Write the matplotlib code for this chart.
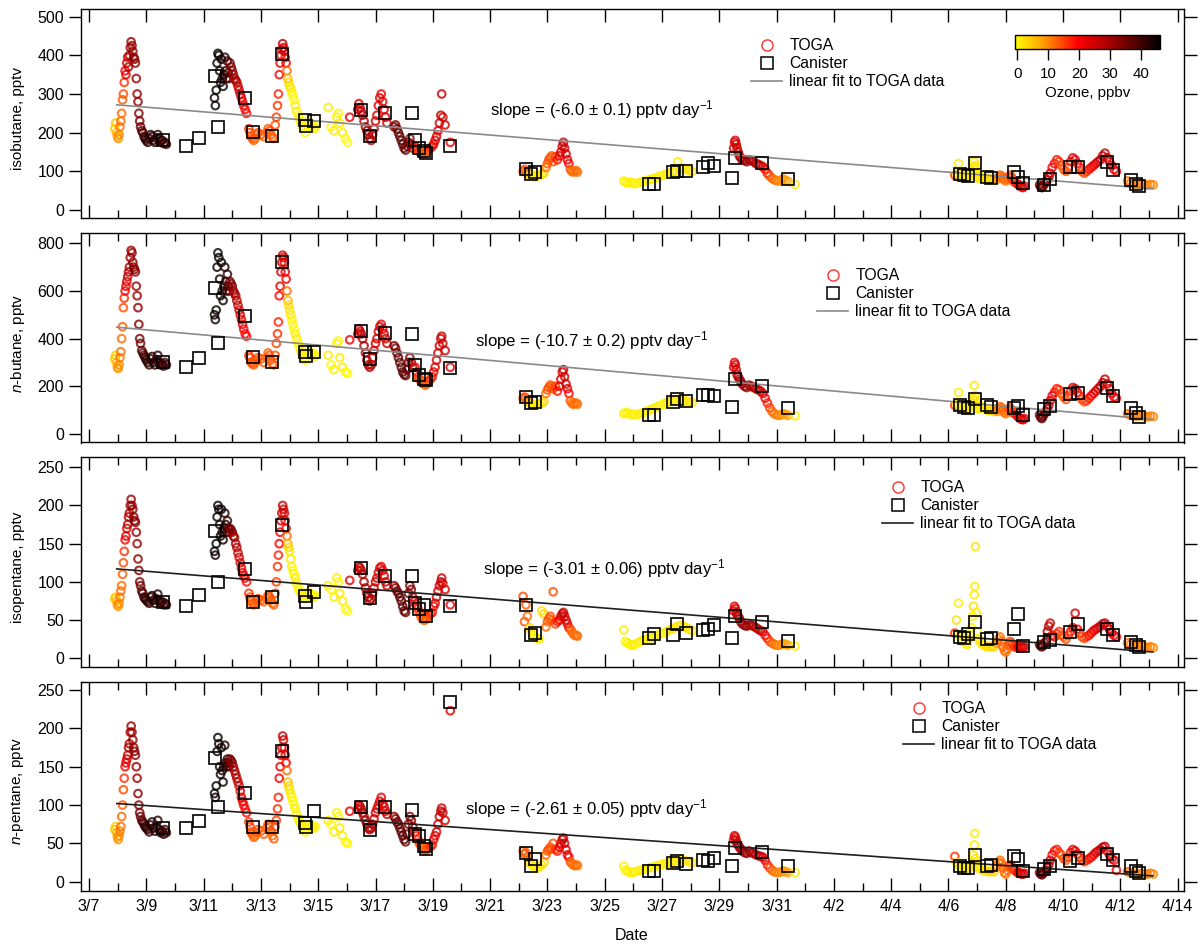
import numpy as np
import matplotlib.pyplot as plt
from matplotlib.colors import LinearSegmentedColormap, Normalize
from matplotlib.cm import ScalarMappable
from matplotlib.lines import Line2D
from matplotlib.ticker import FixedLocator

plt.rcParams['font.family'] = ['Liberation Sans', 'DejaVu Sans']
plt.rcParams['mathtext.fontset'] = 'custom'
plt.rcParams['mathtext.rm'] = 'Liberation Sans'
plt.rcParams['mathtext.it'] = 'Liberation Sans:italic'

# time is in days of March (4/1 = 32)
# TOGA samples: time, ozone (ppbv) and the four alkanes (pptv)
toga_day = [
    7.90, 7.93, 7.96, 7.99, 8.02, 8.05, 8.08, 8.11, 8.14, 8.17,
    8.20, 8.23, 8.26, 8.29, 8.32, 8.35, 8.38, 8.41, 8.44, 8.47,
    8.50, 8.53, 8.56, 8.59, 8.62, 8.65, 8.68, 8.71, 8.74, 8.77,
    8.80, 8.84, 8.88, 8.92, 8.96, 9.00, 9.05, 9.10, 9.15, 9.20,
    9.25, 9.30, 9.35, 9.40, 9.45, 9.50, 9.55, 9.60, 9.65, 9.70,
    11.38, 11.41, 11.44, 11.47, 11.50, 11.53, 11.56, 11.59, 11.62, 11.65,
    11.68, 11.71, 11.74, 11.77, 11.80, 11.83, 11.86, 11.89, 11.92, 11.96,
    12.00, 12.04, 12.08, 12.12, 12.16, 12.20, 12.24, 12.28, 12.32, 12.36,
    12.40, 12.45, 12.50, 12.58, 12.62, 12.66, 12.70, 12.75, 12.80, 12.85,
    12.90, 13.00, 13.10, 13.20, 13.25, 13.30, 13.35, 13.40, 13.45,
    13.50, 13.54, 13.58, 13.61, 13.64, 13.67, 13.70, 13.73, 13.76, 13.79,
    13.82, 13.85, 13.88, 13.91, 13.94, 13.97, 14.00, 14.04, 14.08, 14.12,
    14.16, 14.20, 14.25, 14.30, 14.35, 14.40, 14.45, 14.50, 14.55, 14.60,
    14.65, 14.70, 14.75, 14.80, 14.85, 14.90,
    15.35, 15.45, 15.55, 15.65, 15.70, 15.75, 15.85, 15.95, 16.02, 16.10,
    16.38, 16.42, 16.46, 16.50, 16.55, 16.60, 16.65, 16.70, 16.75, 16.80,
    16.85, 16.90, 16.95, 17.00, 17.05, 17.10, 17.15, 17.20, 17.25, 17.30,
    17.35, 17.40,
    17.65, 17.70, 17.75, 17.80, 17.85, 17.90, 17.95, 18.00, 18.05, 18.10,
    18.15, 18.20, 18.25, 18.30, 18.38, 18.43, 18.48, 18.53, 18.58, 18.63,
    18.68, 18.73, 18.78, 18.85, 18.92, 18.98, 19.03, 19.08, 19.13, 19.18,
    19.23, 19.28, 19.31, 19.35, 19.43, 19.61,
    22.15, 22.20, 22.25, 22.30, 22.38, 22.45, 22.52, 22.58, 22.65, 22.72,
    22.80, 22.88, 22.95, 23.00, 23.05, 23.10, 23.15, 23.20, 23.28, 23.35,
    23.42, 23.47, 23.52, 23.56, 23.60, 23.65, 23.70, 23.75, 23.80, 23.85,
    23.90, 23.95, 24.00, 24.05,
    25.67, 25.72, 25.80, 25.88, 25.96, 26.05, 26.15, 26.25, 26.35, 26.45,
    26.55, 26.65, 26.75, 26.85, 26.95, 27.05, 27.15, 27.25, 27.35, 27.45,
    27.55, 27.65, 27.75, 27.85, 27.95, 28.05,
    29.50, 29.53, 29.56, 29.59, 29.62, 29.66, 29.70, 29.75, 29.80, 29.88,
    29.96, 30.04, 30.12, 30.20, 30.28, 30.36, 30.44, 30.52, 30.60, 30.68,
    30.76, 30.84, 30.92, 31.00, 31.08, 31.16, 31.24, 31.32, 31.40, 31.65,
    37.22, 37.28, 37.35, 37.40, 37.45, 37.50, 37.55, 37.60, 37.65, 37.70,
    37.75, 37.80, 37.84, 37.87, 37.90, 37.92, 37.94, 37.97, 38.00, 38.05,
    38.10, 38.15, 38.20, 38.25, 38.30, 38.35, 38.42, 38.50, 38.58,
    38.70, 38.75, 38.80, 38.85, 38.90, 38.95, 39.00, 39.05, 39.10, 39.15,
    39.20, 39.25, 39.30, 39.40, 39.45, 39.50, 39.55, 39.60, 39.65,
    40.18, 40.22, 40.26, 40.30, 40.35, 40.40, 40.45, 40.50, 40.55, 40.62,
    40.70, 40.78, 40.86, 40.94, 41.02, 41.10, 41.18, 41.26, 41.34, 41.42,
    41.50, 41.58, 41.66, 41.74, 41.82, 41.90, 41.98, 42.06, 42.14, 42.22,
    42.30, 42.38, 42.46, 42.54, 42.62, 42.70, 42.78, 42.86,
    43.25, 43.35, 43.45, 43.55, 43.65, 43.75, 43.85, 43.95, 44.05, 44.15,
]
toga_ozone = [
    5, 4, 6, 8, 9, 10, 11, 12, 12, 13,
    14, 16, 20, 22, 24, 26, 28, 29, 30, 31,
    31, 32, 32, 33, 32, 31, 31, 32, 33, 34,
    35, 36, 38, 40, 41, 42, 42, 41, 42, 43,
    43, 42, 41, 42, 43, 43, 42, 41, 40, 40,
    44, 45, 46, 45, 46, 45, 44, 45, 46, 44,
    45, 44, 43, 44, 42, 41, 40, 38, 35, 33,
    32, 31, 30, 29, 28, 26, 25, 24, 23, 22,
    21, 20, 19, 16, 15, 14, 13, 13, 12, 13,
    14, 14, 13, 12, 13, 14, 13, 12, 13,
    14, 15, 16, 17, 20, 22, 24, 25, 26, 25,
    24, 22, 20, 12, 6, 3, 2, 1, 1, 0,
    0, 1, 1, 0, 0, 1, 1, 0, 0, 1,
    1, 0, 0, 1, 1, 0,
    1, 0, 1, 1, 0, 1, 1, 0, 0, 22,
    24, 25, 26, 27, 28, 29, 30, 31, 30, 29,
    28, 27, 26, 25, 24, 23, 23, 22, 23, 24,
    25, 26,
    33, 34, 35, 36, 37, 38, 38, 37, 36, 35,
    34, 33, 32, 30, 20, 18, 16, 14, 13, 13,
    12, 12, 13, 14, 16, 18, 22, 23, 24, 25,
    25, 26, 26, 25, 24, 22,
    14, 14, 13, 12, 3, 1, 1, 0, 1, 1,
    2, 3, 12, 13, 14, 14, 13, 14, 15, 18,
    22, 24, 25, 26, 25, 24, 23, 20, 14, 12,
    12, 11, 12, 12,
    1, 0, 1, 0, 1, 1, 0, 1, 1, 0,
    1, 1, 0, 1, 1, 0, 1, 1, 2, 2,
    1, 2, 2, 1, 2, 2,
    22, 23, 24, 25, 26, 27, 28, 29, 30, 31,
    32, 31, 30, 29, 28, 27, 26, 25, 22, 18,
    15, 13, 12, 11, 10, 10, 9, 8, 8, 1,
    16, 2, 1, 1, 0, 1, 1, 0, 1, 1,
    2, 1, 1, 2, 1, 1, 2, 1, 1, 2,
    1, 1, 2, 1, 1, 2, 2, 3, 3,
    10, 11, 12, 12, 13, 12, 11, 12, 13, 14,
    14, 15, 16, 18, 22, 24, 25, 24, 23,
    35, 36, 37, 36, 35, 34, 30, 28, 25, 22,
    20, 18, 16, 14, 13, 14, 15, 18, 22, 24,
    22, 18, 15, 14, 16, 18, 20, 22, 24, 25,
    26, 27, 26, 25, 24, 23, 22, 20,
    12, 11, 11, 10, 10, 11, 10, 10, 11, 10,
]
toga_isobutane = [
    210, 225, 200, 190, 185, 195, 215, 230, 250, 285,
    300, 330, 360, 350, 380, 395, 370, 400, 420, 435,
    425, 410, 395, 390, 380, 340, 300, 280, 250, 230,
    215, 205, 200, 190, 185, 180, 175, 185, 195, 190,
    180, 175, 185, 195, 185, 178, 180, 172, 175, 170,
    290, 270, 310, 380, 405, 400, 360, 330, 390, 340,
    320, 350, 395, 360, 340, 385, 355, 340, 380, 370,
    360, 350, 340, 335, 330, 320, 310, 300, 290, 280,
    270, 260, 250, 210, 200, 190, 185, 180, 185, 195,
    200, 195, 190, 200, 210, 205, 195, 188, 185,
    220, 240, 270, 300, 350, 380, 400, 415, 430, 420,
    410, 395, 380, 360, 340, 330, 320, 315, 305, 295,
    285, 270, 255, 245, 235, 225, 215, 210, 200, 220,
    230, 225, 215, 220, 210, 215,
    265, 215, 205, 240, 250, 225, 200, 185, 175, 240,
    260, 275, 265, 255, 245, 230, 215, 205, 195, 185,
    180, 195, 210, 230, 245, 270, 290, 300, 280, 260,
    240, 225,
    215, 220, 210, 200, 190, 180, 170, 160, 155, 165,
    175, 185, 170, 160, 165, 160, 155, 150, 148, 145,
    146, 148, 150, 155, 160, 165, 170, 180, 190, 205,
    225, 245, 300, 240, 220, 175,
    100, 105, 100, 95, 90, 88, 90, 85, 88, 90,
    92, 95, 110, 120, 130, 135, 140, 125, 138, 130,
    140, 150, 165, 175, 160, 145, 130, 120, 105, 100,
    98, 100, 102, 98,
    75, 72, 70, 72, 70, 68, 70, 72, 74, 76,
    78, 80, 82, 85, 88, 90, 92, 95, 98, 100,
    125, 105, 108, 105, 102, 100,
    160, 175, 180, 170, 160, 150, 140, 135, 130, 128,
    125, 130, 128, 125, 120, 118, 115, 112, 105, 95,
    88, 82, 78, 76, 75, 78, 80, 76, 74, 66,
    90, 95, 120, 90, 85, 88, 92, 85, 82, 88,
    90, 95, 100, 110, 125, 105, 115, 95, 85, 82,
    85, 88, 86, 84, 82, 80, 78, 80, 78,
    80, 85, 90, 88, 82, 78, 75, 80, 85, 90,
    85, 78, 72, 68, 65, 62, 60, 58, 62,
    65, 60, 58, 62, 68, 72, 78, 85, 95, 110,
    120, 130, 125, 115, 105, 100, 110, 125, 135, 130,
    120, 110, 100, 95, 100, 105, 110, 115, 120, 125,
    130, 140, 147, 135, 125, 115, 105, 100,
    75, 70, 68, 65, 66, 68, 65, 64, 66, 65,
]
toga_nbutane = [
    315, 330, 300, 280, 275, 290, 320, 345, 400, 450,
    530, 570, 600, 620, 640, 660, 680, 700, 740, 770,
    760, 720, 700, 690, 680, 620, 580, 530, 460, 400,
    380, 350, 340, 330, 320, 310, 300, 290, 315, 325,
    300, 290, 310, 330, 300, 290, 295, 285, 300, 290,
    500, 480, 520, 700, 760, 740, 650, 580, 720, 600,
    560, 620, 700, 640, 600, 670, 620, 600, 640, 630,
    620, 600, 590, 580, 560, 540, 520, 500, 480, 460,
    440, 420, 410, 330, 320, 300, 295, 290, 300, 310,
    320, 315, 300, 320, 340, 330, 310, 295, 290,
    330, 380, 420, 470, 580, 620, 680, 720, 750, 740,
    720, 680, 650, 600, 560, 540, 520, 500, 480, 460,
    440, 420, 400, 380, 360, 345, 330, 320, 310, 335,
    345, 340, 330, 340, 325, 330,
    330, 290, 270, 380, 390, 320, 280, 260, 255, 395,
    420, 440, 430, 420, 400, 370, 340, 310, 290, 280,
    290, 320, 350, 380, 400, 430, 450, 460, 440, 420,
    400, 380,
    370, 360, 340, 320, 300, 280, 260, 250, 245, 270,
    300, 320, 300, 280, 280, 260, 240, 230, 225, 215,
    210, 205, 210, 220, 230, 240, 260, 280, 310, 340,
    370, 400, 410, 380, 350, 280,
    150, 155, 150, 140, 130, 125, 125, 120, 122, 125,
    130, 135, 170, 185, 195, 205, 200, 190, 200, 180,
    200, 230, 260, 270, 240, 210, 190, 170, 140, 130,
    125, 128, 130, 125,
    85, 90, 88, 85, 82, 80, 82, 85, 90, 95,
    100, 105, 110, 115, 120, 125, 130, 135, 138, 140,
    145, 145, 140, 138, 135, 132,
    280, 300, 290, 270, 250, 240, 230, 220, 210, 200,
    195, 205, 200, 195, 190, 185, 180, 170, 150, 130,
    110, 95, 85, 80, 78, 80, 85, 82, 78, 76,
    120, 125, 174, 120, 115, 110, 118, 105, 100, 112,
    115, 125, 130, 150, 203, 140, 160, 125, 110, 105,
    110, 115, 112, 108, 105, 100, 98, 100, 95,
    95, 105, 115, 110, 100, 90, 85, 95, 105, 110,
    100, 90, 85, 75, 70, 65, 62, 60, 65,
    80, 70, 65, 75, 85, 95, 105, 120, 140, 160,
    175, 190, 185, 170, 155, 145, 160, 180, 195, 190,
    175, 160, 145, 135, 140, 150, 160, 170, 180, 190,
    200, 215, 230, 210, 190, 170, 155, 150,
    85, 80, 78, 75, 76, 78, 74, 72, 75, 73,
]
toga_isopentane = [
    78, 80, 75, 70, 68, 72, 80, 88, 95, 110,
    125, 140, 155, 160, 170, 175, 185, 190, 200, 208,
    200, 195, 185, 180, 178, 165, 150, 130, 115, 100,
    95, 88, 85, 80, 78, 76, 74, 72, 80, 82,
    76, 72, 78, 84, 75, 72, 74, 70, 72, 70,
    140, 135, 150, 185, 200, 195, 175, 160, 195, 165,
    155, 170, 190, 175, 165, 180, 170, 165, 170, 168,
    165, 160, 158, 150, 145, 138, 132, 125, 118, 112,
    108, 105, 100, 85, 80, 75, 72, 70, 72, 75,
    78, 76, 74, 78, 82, 80, 76, 72, 70,
    85, 100, 120, 135, 150, 165, 180, 190, 200, 195,
    190, 180, 170, 160, 150, 145, 140, 130, 120, 115,
    110, 105, 98, 92, 88, 85, 82, 80, 78, 84,
    86, 84, 80, 83, 80, 82,
    95, 90, 80, 105, 100, 85, 75, 65, 62, 102,
    115, 120, 118, 115, 110, 100, 92, 85, 80, 75,
    78, 85, 92, 100, 105, 112, 118, 120, 115, 108,
    100, 95,
    95, 92, 88, 85, 80, 75, 68, 62, 60, 70,
    85, 95, 90, 80, 75, 70, 65, 60, 55, 52,
    50, 50, 52, 55, 58, 60, 68, 72, 80, 88,
    95, 100, 105, 98, 90, 70,
    81, 48, 70, 55, 40, 35, 30, 28, 26, 25,
    62, 58, 41, 48, 52, 55, 50, 87, 45, 48,
    50, 55, 58, 60, 55, 50, 45, 40, 38, 35,
    32, 30, 30, 29,
    37, 22, 20, 18, 17, 18, 20, 22, 24, 25,
    26, 27, 28, 30, 32, 33, 35, 37, 38, 40,
    42, 43, 42, 40, 38, 36,
    62, 68, 65, 60, 57, 55, 52, 48, 45, 43,
    42, 44, 43, 42, 40, 38, 36, 35, 30, 26,
    22, 20, 18, 17, 17, 18, 19, 18, 17, 16,
    33, 50, 72, 30, 25, 22, 28, 20, 18, 25,
    30, 40, 55, 68, 83, 94, 146, 60, 35, 25,
    22, 20, 18, 17, 16, 15, 15, 16, 15,
    20, 25, 28, 22, 15, 10, 8, 12, 18, 22,
    20, 18, 15, 14, 15, 14, 15, 14, 15,
    18, 16, 15, 17, 20, 22, 35, 42, 46, 30,
    28, 32, 35, 30, 28, 25, 30, 35, 40, 59,
    38, 33, 28, 26, 28, 30, 33, 36, 38, 40,
    42, 45, 46, 42, 38, 33, 30, 28,
    20, 18, 17, 16, 15, 16, 15, 14, 15, 14,
]
toga_npentane = [
    68, 72, 64, 58, 55, 60, 66, 72, 85, 100,
    120, 135, 150, 155, 160, 165, 175, 180, 195, 203,
    195, 185, 175, 170, 165, 150, 135, 115, 100, 90,
    85, 80, 78, 75, 72, 70, 68, 65, 74, 78,
    70, 66, 72, 80, 68, 64, 66, 62, 68, 64,
    115, 110, 125, 170, 188, 180, 150, 140, 175, 145,
    130, 150, 178, 155, 150, 160, 155, 150, 160, 158,
    155, 150, 145, 140, 135, 130, 125, 118, 110, 105,
    100, 95, 90, 78, 72, 65, 62, 58, 60, 64,
    68, 66, 62, 70, 75, 72, 66, 60, 56,
    72, 80, 95, 110, 135, 150, 165, 175, 190, 185,
    175, 165, 155, 145, 130, 125, 120, 115, 110, 105,
    100, 95, 88, 82, 78, 75, 72, 70, 65, 74,
    75, 72, 70, 73, 70, 72,
    80, 75, 65, 90, 85, 70, 60, 52, 50, 92,
    95, 100, 98, 95, 90, 85, 80, 75, 70, 68,
    70, 75, 82, 90, 95, 100, 105, 110, 102, 98,
    92, 88,
    85, 82, 78, 75, 70, 65, 60, 55, 52, 62,
    75, 85, 80, 72, 65, 60, 55, 50, 48, 45,
    42, 40, 42, 44, 46, 48, 55, 60, 65, 75,
    85, 92, 96, 90, 80, 223,
    40, 36, 38, 32, 25, 22, 20, 18, 18, 20,
    22, 25, 35, 40, 42, 45, 43, 50, 42, 40,
    45, 50, 55, 57, 50, 42, 35, 32, 26, 24,
    22, 21, 22, 21,
    20, 15, 14, 12, 12, 13, 14, 15, 16, 17,
    18, 19, 20, 21, 22, 23, 24, 25, 26, 27,
    28, 29, 28, 27, 26, 25,
    55, 60, 58, 54, 50, 48, 45, 43, 40, 38,
    37, 40, 38, 37, 35, 34, 33, 32, 28, 22,
    18, 15, 13, 12, 12, 13, 14, 13, 12, 12,
    33, 25, 22, 20, 18, 17, 20, 16, 15, 18,
    20, 22, 25, 35, 48, 63, 30, 25, 20, 18,
    17, 16, 15, 15, 14, 14, 13, 14, 13,
    20, 25, 28, 24, 18, 12, 10, 15, 20, 22,
    20, 18, 15, 12, 12, 11, 10, 10, 11,
    12, 10, 9, 11, 13, 15, 18, 22, 28, 35,
    40, 42, 38, 35, 30, 28, 32, 38, 42, 40,
    36, 32, 28, 26, 28, 30, 32, 35, 38, 40,
    42, 45, 46, 40, 35, 30, 28, 15,
    13, 12, 11, 10, 10, 11, 10, 10, 11, 10,
]

# canister samples
can_day = [9.57, 10.37, 10.84, 11.40, 11.51, 12.44, 12.71, 13.37, 13.73, 14.53,
           14.57, 14.84, 16.51, 16.81, 17.32, 18.28, 18.37, 18.53, 18.68, 18.77,
           19.61, 22.25, 22.41, 22.55, 26.53, 26.71, 27.37, 27.53, 27.83, 28.44,
           28.60, 28.80, 29.44, 29.56, 30.48, 31.39, 37.40, 37.53, 37.69, 37.92,
           38.36, 38.47, 39.28, 39.43, 39.60, 40.33, 40.55, 41.23, 41.52, 42.53,
           42.73, 43.37, 43.53, 43.64]
can_isobutane = [181, 166, 185, 347, 214, 290, 201, 191, 403, 233,
                 217, 231, 259, 191, 252, 250, 181, 160, 153, 147,
                 166, 107, 93, 98, 66, 68, 97, 101, 100, 112,
                 121, 115, 84, 135, 122, 80, 93, 90, 87, 121,
                 86, 84, 97, 86, 69, 65, 80, 112, 110, 123,
                 103, 78, 67, 62]
can_nbutane = [300, 283, 318, 614, 381, 493, 322, 304, 721, 346,
               328, 345, 433, 314, 423, 418, 290, 248, 231, 227,
               276, 157, 129, 136, 80, 80, 136, 147, 139, 164,
               164, 161, 115, 231, 202, 111, 122, 115, 111, 147,
               122, 115, 108, 119, 80, 104, 118, 167, 171, 195,
               160, 111, 87, 73]
can_isopentane = [74, 68, 83, 166, 100, 117, 74, 80, 175, 81,
                  74, 87, 118, 79, 108, 108, 73, 64, 70, 55,
                  69, 70, 31, 33, 26, 32, 30, 45, 33, 37,
                  38, 43, 26, 55, 47, 23, 28, 26, 32, 47,
                  25, 26, 38, 58, 16, 21, 24, 34, 45, 38,
                  31, 21, 17, 15]
can_npentane = [70, 70, 79, 162, 98, 116, 71, 71, 171, 76,
                72, 92, 98, 67, 97, 93, 62, 59, 46, 43,
                234, 38, 20, 30, 14, 14, 25, 27, 23, 28,
                27, 31, 20, 44, 39, 20, 20, 18, 18, 35,
                20, 22, 33, 29, 14, 17, 21, 27, 31, 36,
                28, 20, 14, 12]

# linear fits to TOGA data (value at fit start, slope per day)
fit_span = [7.97, 44.13]
fit_start = [272, 448, 117, 102]
fit_slope = [-6.0, -10.7, -3.01, -2.61]
slope_labels = ['slope = (-6.0 ± 0.1) pptv day$^{-1}$',
                'slope = (-10.7 ± 0.2) pptv day$^{-1}$',
                'slope = (-3.01 ± 0.06) pptv day$^{-1}$',
                'slope = (-2.61 ± 0.05) pptv day$^{-1}$']
ylabels = ['isobutane, pptv', '$\\it{n}$-butane, pptv',
           'isopentane, pptv', '$\\it{n}$-pentane, pptv']

toga_vals = [toga_isobutane, toga_nbutane, toga_isopentane, toga_npentane]
can_vals = [can_isobutane, can_nbutane, can_isopentane, can_npentane]

# layout (pixels of a 1201 x 947 figure)
W, H = 1201, 947
panel_px = [(9.3, 218.4), (233.4, 442.5), (457.5, 666.6), (681.6, 890.7)]
ylims = [(-21.7, 519), (-35.7, 841.5), (-10.9, 262.8), (-11.7, 261)]
yticks = [np.arange(0, 501, 100), np.arange(0, 801, 200),
          np.arange(0, 251, 50), np.arange(0, 251, 50)]
fit_colors = ['#8a8a8a', '#8a8a8a', '#1e1e1e', '#1e1e1e']
legend_px = [(751, 38), (817, 268), (882, 480), (903, 701)]
slope_px = [(490, 110), (474.6, 341), (483, 569), (465, 809)]

cmap = LinearSegmentedColormap.from_list(
    'yellowhot', [(0.0, '#ffff00'), (0.2, '#ff9a00'), (0.43, '#ff0000'),
                  (0.65, '#a80000'), (0.87, '#400000'), (1.0, '#000000')])
norm = Normalize(vmin=-0.7, vmax=46)
edge = cmap(norm(np.array(toga_ozone)))

fig = plt.figure(figsize=(W / 100, H / 100), dpi=100)
x0, x1 = 80.7, 1184.0
days = np.arange(7, 46)
major = np.arange(7, 46, 2)
xlabels = [f'3/{d}' if d <= 31 else f'4/{d - 31}' for d in major]

for i in range(4):
    top, bot = panel_px[i]
    ax = fig.add_axes([x0 / W, 1 - bot / H, (x1 - x0) / W, (bot - top) / H])
    ax.scatter(toga_day, toga_vals[i], s=30, facecolors='none', edgecolors=edge,
               linewidths=1.5, alpha=0.8, zorder=2)
    tf = np.array(fit_span)
    ax.plot(tf, fit_start[i] + fit_slope[i] * (tf - fit_span[0]),
            color=fit_colors[i], lw=1.2, zorder=3)
    ax.plot(can_day, can_vals[i], ls='none', marker='s', ms=8.2, mfc='none',
            mec='k', mew=1.2, zorder=4)

    ax.set_xlim(6.71, 45.22)
    ax.set_ylim(*ylims[i])
    ax.set_yticks(yticks[i])
    ax.xaxis.set_major_locator(FixedLocator(major))
    ax.xaxis.set_minor_locator(FixedLocator(days))
    ax.tick_params(axis='x', which='both', direction='in', top=True, bottom=True, width=1)
    ax.tick_params(axis='x', which='major', length=9.5)
    ax.tick_params(axis='x', which='minor', length=5.5)
    if i == 0:
        ax.tick_params(axis='x', which='minor', top=False)
    ax.tick_params(axis='y', direction='out', left=True, right=True, length=9,
                   width=1, labelsize=11.5, pad=3)
    if i == 3:
        ax.set_xticklabels(xlabels)
        ax.tick_params(axis='x', labelsize=11.5, pad=6)
    else:
        ax.set_xticklabels([])
    for sp in ax.spines.values():
        sp.set_linewidth(1.0)

    handles = [Line2D([], [], ls='none', marker='o', ms=8, mfc='none', mec='#ff3030', mew=1.0),
               Line2D([], [], ls='none', marker='s', ms=8, mfc='none', mec='k', mew=1.1),
               Line2D([], [], color=fit_colors[i], lw=1.2)]
    lx, ly = legend_px[i]
    ax.legend(handles, ['TOGA', 'Canister', 'linear fit to TOGA data'],
              loc='upper left', bbox_to_anchor=(lx / W, 1 - ly / H),
              bbox_transform=fig.transFigure, frameon=False, fontsize=11.3,
              handlelength=2.0, handletextpad=0.45, labelspacing=0.2,
              borderpad=0, borderaxespad=0)

    sx, sy = slope_px[i]
    fig.text(sx / W, 1 - sy / H, slope_labels[i], fontsize=12.1, ha='left', va='center')
    fig.text(18 / W, 1 - ((top + bot) / 2 + 5) / H, ylabels[i], fontsize=11,
             rotation=90, ha='center', va='center')

fig.text(632 / W, 1 - 935 / H, 'Date', fontsize=11.5, ha='center', va='center')

# ozone colour bar
cax = fig.add_axes([1015 / W, 1 - 49.3 / H, 145 / W, 14.3 / H])
cb = fig.colorbar(ScalarMappable(norm=norm, cmap=cmap), cax=cax,
                  orientation='horizontal', ticks=[0, 10, 20, 30, 40])
cb.outline.set_linewidth(1.0)
cax.tick_params(direction='out', length=8, width=1, labelsize=10.8, pad=5)
cax.set_xlabel('Ozone, ppbv', fontsize=10.8, labelpad=3)

fig.savefig('out.png', dpi=100)
